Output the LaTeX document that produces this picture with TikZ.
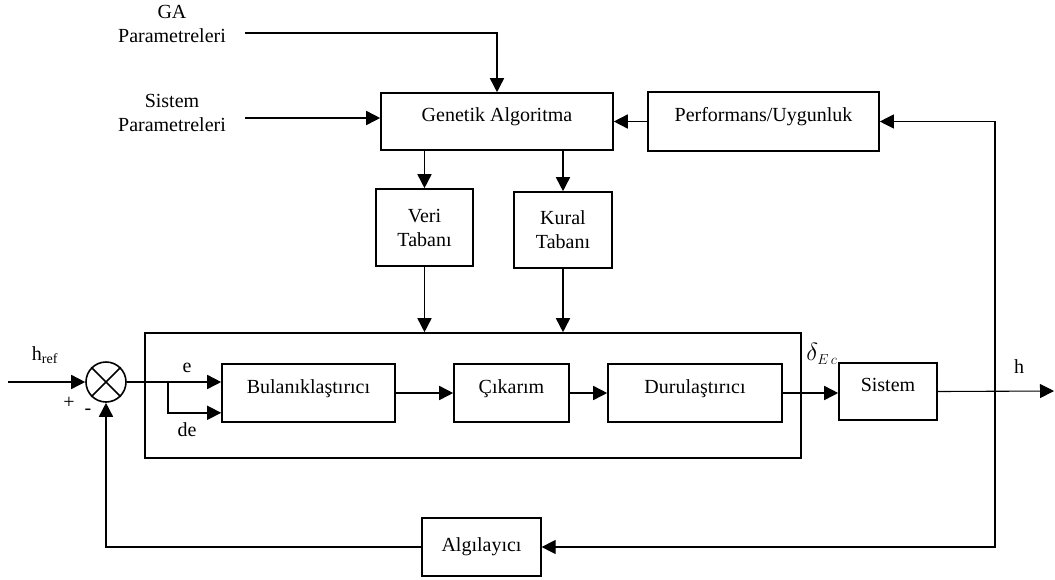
\documentclass[tikz,border=0pt]{standalone}
\usepackage{fontspec}
\setmainfont{Liberation Serif}
\usetikzlibrary{arrows.meta,positioning}

\tikzset{
    block/.style={draw, line width=1.6pt, inner sep=0pt, align=center},
    raised/.style={text height=14pt, text depth=14pt},
    sig/.style={line width=1.6pt, -{Triangle[length=14pt,width=14pt]}},
    thinsig/.style={sig, line width=1.1pt},
    wire/.style={line width=1.6pt},
}

\begin{document}
\begin{tikzpicture}[x=1pt, y=-1pt, font=\fontsize{20}{24}\selectfont]
                    \useasboundingbox (0,0) rectangle (1055,579);

                    \node [block, raised, minimum width=232pt, minimum height=57pt] (ga) at (497,121.5) {Genetik Algoritma};
                    \node [block, raised, minimum width=231pt, minimum height=59pt] (perf) at (763.5,121.5) {Performans/Uygunluk};
                    \node [block, minimum width=97pt, minimum height=77pt] (veri) at (424.5,227.5) {Veri\\Taban\i};
                    \node [block, minimum width=98pt, minimum height=76pt] (kural) at (563,230) {Kural\\Taban\i};
                    \node [align=center] (gapar) at (172,24) {GA\\Parametreleri};
                    \node [align=center] (sispar) at (172,113) {Sistem\\Parametreleri};

                    \node [draw, line width=1.6pt, minimum width=656pt, minimum height=125pt] (fkd) at (473,395.5) {};
                    \node [block, raised, minimum width=173pt, minimum height=58pt] (bul) at (308.5,393) {Bulan\i kla\c{s}t\i r\i c\i};
                    \node [block, raised, minimum width=115pt, minimum height=58pt] (cik) at (511.5,393) {\c{C}\i kar\i m};
                    \node [block, raised, minimum width=174pt, minimum height=58pt] (dur) at (695,393) {Durula\c{s}t\i r\i c\i};
                    \node [block, raised, minimum width=98pt, minimum height=57pt] (sis) at (888,391.5) {Sistem};
                    \node [block, line width=1.2pt, minimum width=119pt, minimum height=58pt] (alg) at (481.5,547) {Alg\i lay\i c\i};
                    \node [draw, circle, line width=1.6pt, minimum size=40pt, inner sep=0pt] (sum) at (106,382) {};
                    \draw [wire] (sum.north west) -- (sum.south east) (sum.north east) -- (sum.south west);

                    \node (href) at (45,355) {h\textsubscript{ref}};
                    \node (plus) at (69,403) {+};
                    \node (minus) at (88,412) {-};
                    \node (e) at (187,368) {e};
                    \node (de) at (187,430) {de};
                    \node [font=\fontsize{28}{30}\selectfont] (delta) at (822,354) {$\delta_{\scriptscriptstyle E\,c}$};
                    \node (h) at (1019,367) {h};

                    \coordinate (gain) at (245,33);
                    \coordinate (spin) at (245,118);
                    \coordinate (in) at (8,382);
                    \coordinate (br) at (168,382);
                    \coordinate (fb) at (995,391);
                    \coordinate (out) at (1054,391);

                    \draw [sig] (gain) -| (ga.north);
                    \draw [sig] (spin) -- (spin -| ga.west);
                    \draw [sig] (ga.south -| veri) -- (veri.north);
                    \draw [sig] (ga.south -| kural) -- (kural.north);
                    \draw [sig] (veri.south) -- (veri.south |- fkd.north);
                    \draw [sig] (kural.south) -- (kural.south |- fkd.north);
                    \draw [sig] (perf.west) -- (ga.east);

                    \draw [sig] (in) -- (sum.west);
                    \draw [sig] (sum.east) -- (bul.west |- sum.east);
                    \draw [sig] (br) |- ([yshift=10pt]bul.south west);
                    \draw [sig] (bul.east) -- (cik.west);
                    \draw [sig] (cik.east) -- (dur.west);
                    \draw [sig] (dur.east) -- (dur.east -| sis.west);
                    \draw [thinsig] (sis.east) -- (out);
                    \draw [thinsig] (fb) |- (perf.east);
                    \draw [thinsig] (fb) |- (alg.east);
                    \draw [sig] (alg.west) -| (sum.south);
\end{tikzpicture}
\end{document}
